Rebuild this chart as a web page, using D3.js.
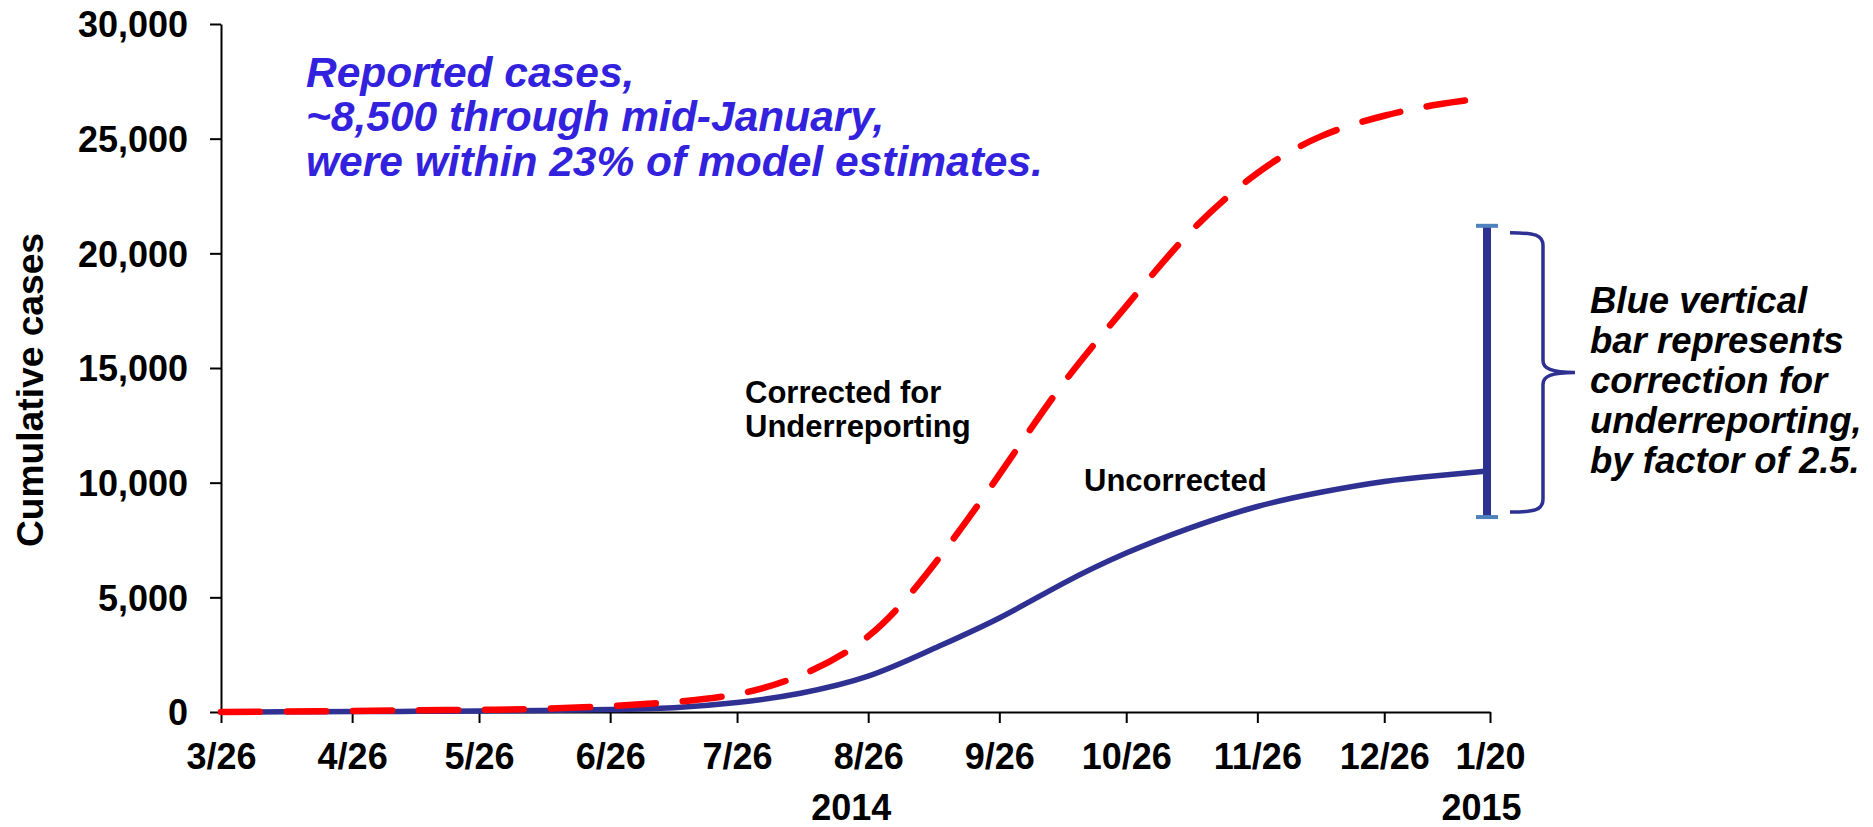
<!DOCTYPE html>
<html>
<head>
<meta charset="utf-8">
<script src="https://cdn.jsdelivr.net/npm/d3@7/dist/d3.min.js"></script>
<style>
  html, body { margin: 0; padding: 0; background: #ffffff; }
  svg { display: block; font-family: "Liberation Sans", Arial, Helvetica, sans-serif; }
</style>
</head>
<body>
<svg id="chart" width="1873" height="827"></svg>
<script>
// ---------------- data ----------------
const dates = ["2014-03-26","2014-04-10","2014-04-26","2014-05-11","2014-05-26","2014-06-10","2014-06-26",
  "2014-07-11","2014-07-26","2014-08-10","2014-08-26","2014-09-10","2014-09-26","2014-10-11","2014-10-26",
  "2014-11-10","2014-11-26","2014-12-11","2014-12-26","2015-01-08","2015-01-20"];
const corrected   = [0, 25, 45, 70, 95, 140, 260, 440, 780, 1600, 3300, 6300, 10350, 14300, 17700, 20900, 23500, 25100, 26000, 26500, 26800];
const uncorrected = [0, 10, 20, 30, 45, 70, 110, 190, 410, 820, 1560, 2720, 4100, 5600, 6930, 8020, 8960, 9580, 10050, 10310, 10520];

const xTickDates  = ["2014-03-26","2014-04-26","2014-05-26","2014-06-26","2014-07-26","2014-08-26","2014-09-26","2014-10-26","2014-11-26","2014-12-26","2015-01-20"];
const xTickLabels = ["3/26","4/26","5/26","6/26","7/26","8/26","9/26","10/26","11/26","12/26","1/20"];
const yTicks      = [0, 5000, 10000, 15000, 20000, 25000, 30000];
const yearDates   = ["2014-08-22","2015-01-18"];
const yearLabels  = ["2014","2015"];

const barDate = "2015-01-20";
const barLow = 8500, barHigh = 21200;

const annotationLines = ["Reported cases,", "~8,500 through mid-January,", "were within 23% of model estimates."];
const noteLines = ["Blue vertical", "bar represents", "correction for", "underreporting,", "by factor of 2.5."];
const correctedLabel = ["Corrected for", "Underreporting"];
const uncorrectedLabel = "Uncorrected";
const yTitle = "Cumulative cases";

// ---------------- setup ----------------
const parse = d3.utcParse("%Y-%m-%d");
const svg = d3.select("#chart");
const BLUE = "#2E3192", RED = "#FF0000", CAP = "#4F81BD", TXTBLUE = "#3322DD";

const x = d3.scaleUtc().domain([parse("2014-03-26"), parse("2015-01-20")]).range([221, 1490]);
const y = d3.scaleLinear().domain([0, 30000]).range([712, 24]);

// axes
const yAxis = d3.axisLeft(y).tickValues(yTicks).tickFormat(d3.format(",")).tickSize(11).tickSizeOuter(0).tickPadding(22);
const gy = svg.append("g").attr("transform", `translate(${x.range()[0]},0)`).call(yAxis);
gy.selectAll("text").attr("font-size", 36).attr("font-weight", "bold").attr("fill", "#000").attr("dy", "0.36em");
gy.selectAll("line, path").attr("stroke", "#000").attr("stroke-width", 2);

const xAxis = d3.axisBottom(x).tickValues(xTickDates.map(parse))
  .tickFormat((d, i) => xTickLabels[i]).tickSize(11).tickSizeOuter(0).tickPadding(20);
const gx = svg.append("g").attr("transform", `translate(0,${y(0)})`).call(xAxis);
gx.selectAll("text").attr("font-size", 36).attr("font-weight", "bold").attr("fill", "#000");
gx.selectAll("line, path").attr("stroke", "#000").attr("stroke-width", 2);
svg.selectAll(".domain").attr("fill", "none");

// year labels
svg.append("g").selectAll("text").data(yearLabels).join("text")
  .attr("x", (d, i) => x(parse(yearDates[i])))
  .attr("y", y(0) + 108)
  .attr("text-anchor", "middle").attr("font-size", 36).attr("font-weight", "bold").attr("fill", "#000")
  .text(d => d);

// y title
svg.append("text")
  .attr("transform", `translate(43,390) rotate(-90)`)
  .attr("text-anchor", "middle").attr("font-size", 37).attr("font-weight", "bold")
  .attr("textLength", 314).attr("lengthAdjust", "spacingAndGlyphs")
  .text(yTitle);

// lines
const blueData = dates.map((d, i) => ({ date: parse(d), v: uncorrected[i] }));
const redData  = dates.map((d, i) => ({ date: parse(d), v: corrected[i] }));
const line = d3.line().x(d => x(d.date)).y(d => y(d.v)).curve(d3.curveNatural);

svg.append("path").datum(blueData).attr("d", line)
  .attr("fill", "none").attr("stroke", BLUE).attr("stroke-width", 5.5);

svg.append("path").datum(redData).attr("d", line)
  .attr("fill", "none").attr("stroke", RED).attr("stroke-width", 6.5)
  .attr("stroke-dasharray", "39 27").attr("stroke-linecap", "round");

// vertical bar with caps
const bx = x(parse(barDate)) - 3;
svg.append("line").attr("x1", bx).attr("x2", bx).attr("y1", y(barHigh)).attr("y2", y(barLow))
  .attr("stroke", BLUE).attr("stroke-width", 8);
[barHigh, barLow].forEach(v => {
  svg.append("line").attr("x1", bx - 11).attr("x2", bx + 11).attr("y1", y(v)).attr("y2", y(v))
    .attr("stroke", CAP).attr("stroke-width", 4);
});

// curly brace
const bTop = y(barHigh) + 7, bBot = y(barLow) - 5, bMid = (bTop + bBot) / 2;
const bL = bx + 23, bV = bx + 56, bT = bx + 88;
const brace = d3.path();
brace.moveTo(bL, bTop);
brace.bezierCurveTo(bL + 25, bTop, bV, bTop + 2, bV, bTop + 13);
brace.lineTo(bV, bMid - 12);
brace.bezierCurveTo(bV, bMid - 4, bV + 8, bMid, bT, bMid);
brace.bezierCurveTo(bV + 8, bMid, bV, bMid + 4, bV, bMid + 12);
brace.lineTo(bV, bBot - 13);
brace.bezierCurveTo(bV, bBot - 2, bL + 25, bBot, bL, bBot);
svg.append("path").attr("d", brace.toString()).attr("fill", "none").attr("stroke", BLUE).attr("stroke-width", 3.5);

// annotation (top)
svg.append("g").selectAll("text").data(annotationLines).join("text")
  .attr("x", 306).attr("y", (d, i) => 86.5 + i * 44.5)
  .attr("font-size", 42.5).attr("font-weight", "bold").attr("font-style", "italic").attr("fill", TXTBLUE)
  .text(d => d);

// right note
svg.append("g").selectAll("text").data(noteLines).join("text")
  .attr("x", 1590).attr("y", (d, i) => 313 + i * 40)
  .attr("font-size", 36.5).attr("font-weight", "bold").attr("font-style", "italic").attr("fill", "#000")
  .text(d => d);

// series labels
svg.append("g").selectAll("text").data(correctedLabel).join("text")
  .attr("x", 745).attr("y", (d, i) => 403 + i * 33.5)
  .attr("font-size", 31).attr("font-weight", "bold").attr("fill", "#000")
  .text(d => d);
svg.append("text").attr("x", 1084).attr("y", 491)
  .attr("font-size", 31).attr("font-weight", "bold").attr("fill", "#000")
  .text(uncorrectedLabel);
</script>
</body>
</html>
